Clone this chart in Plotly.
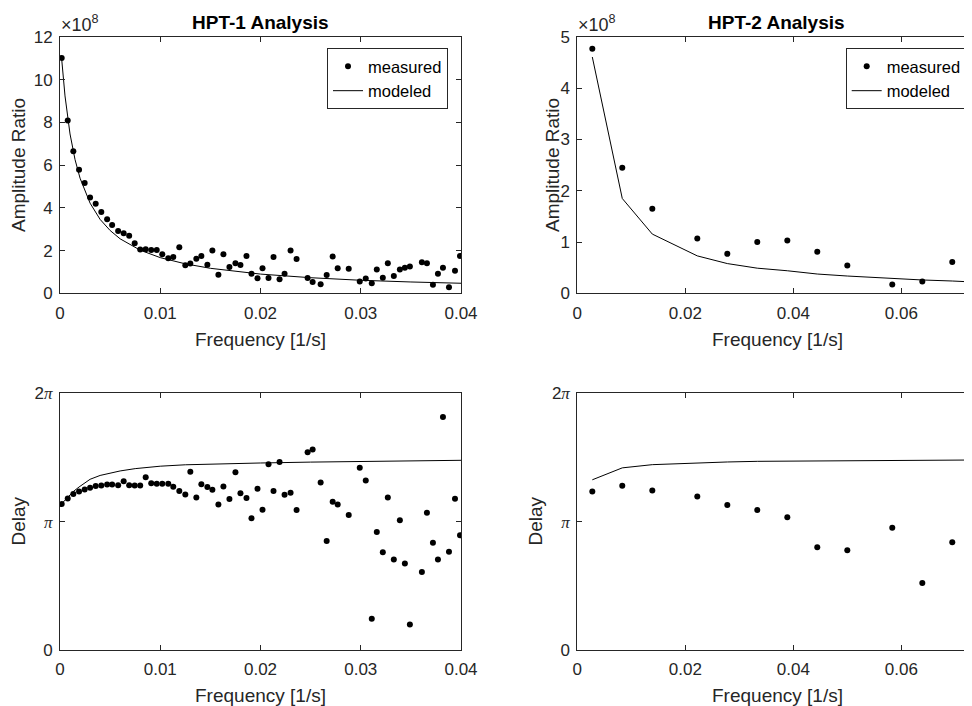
import numpy as np
import plotly.graph_objects as go

# ---------------- data ----------------
# HPT-1 frequencies [1/s]
freq_hpt1 = [0.00017, 0.00077, 0.00133, 0.0019, 0.00246, 0.0030, 0.00356, 0.00412, 0.0047, 0.0052,
             0.0058, 0.00635, 0.0069, 0.00745, 0.0080, 0.00855, 0.0091, 0.00965, 0.0102, 0.0108,
             0.0113, 0.0119, 0.0125, 0.0130, 0.0136, 0.0141, 0.0147, 0.0152, 0.0158, 0.0163,
             0.0169, 0.0175, 0.0180, 0.0186, 0.0191, 0.0197, 0.0202, 0.0208, 0.0213, 0.0219,
             0.0224, 0.0230, 0.0236, 0.0247, 0.0252, 0.0260, 0.0266, 0.0272, 0.0277, 0.0288,
             0.0299, 0.0305, 0.0311, 0.0316, 0.0322, 0.0327, 0.0333, 0.0339, 0.0344, 0.0349,
             0.0361, 0.0366, 0.0372, 0.0377, 0.0382, 0.0388, 0.0394, 0.0399]
# HPT-1 measured amplitude ratio (x 1e8)
amp_hpt1 = [11.02, 8.09, 6.65, 5.78, 5.16, 4.48, 4.19, 3.81, 3.47, 3.20,
            2.92, 2.81, 2.69, 2.34, 2.05, 2.06, 2.03, 2.03, 1.83, 1.64,
            1.70, 2.16, 1.31, 1.39, 1.62, 1.75, 1.34, 2.00, 0.87, 1.83,
            1.23, 1.41, 1.33, 1.75, 0.92, 0.70, 1.17, 0.72, 1.70, 0.66,
            0.92, 2.00, 1.61, 0.72, 0.53, 0.42, 0.86, 1.72, 1.17, 1.15,
            0.55, 0.69, 0.47, 1.12, 0.73, 1.41, 0.81, 1.11, 1.20, 1.25,
            1.45, 1.41, 0.40, 0.92, 1.20, 0.28, 1.05, 1.75]
# HPT-1 measured delay (in units of pi)
delay_hpt1 = [1.137, 1.181, 1.215, 1.235, 1.250, 1.264, 1.277, 1.282, 1.289, 1.289,
              1.284, 1.315, 1.284, 1.282, 1.282, 1.346, 1.300, 1.295, 1.295, 1.295,
              1.271, 1.238, 1.212, 1.388, 1.189, 1.292, 1.269, 1.248, 1.134, 1.274,
              1.176, 1.385, 1.222, 1.184, 1.026, 1.256, 1.093, 1.447, 1.238, 1.465,
              1.209, 1.225, 1.090, 1.540, 1.563, 1.305, 0.850, 1.155, 1.134, 1.052,
              1.419, 1.320, 0.243, 0.920, 0.762, 1.189, 0.705, 1.010, 0.674, 0.199,
              0.607, 1.070, 0.835, 0.705, 1.816, 0.765, 1.178, 0.894]

# HPT-1 model curves
model_freq_hpt1 = [0.00017, 0.0005, 0.001, 0.0015, 0.002, 0.003, 0.004, 0.005, 0.006, 0.008,
                   0.010, 0.0125, 0.015, 0.020, 0.025, 0.030, 0.035, 0.040]
model_amp_hpt1 = [10.96, 9.24, 7.46, 6.26, 5.39, 4.22, 3.46, 2.94, 2.55, 2.02,
                  1.67, 1.38, 1.17, 0.90, 0.73, 0.61, 0.53, 0.47]
model_delay_freq_hpt1 = [0.00017, 0.00077, 0.00133, 0.0019, 0.0025, 0.003, 0.004, 0.005, 0.006, 0.0075,
                         0.010, 0.0125, 0.015, 0.020, 0.025, 0.030, 0.035, 0.040]
model_delay_hpt1 = [1.14, 1.19, 1.235, 1.27, 1.305, 1.33, 1.36, 1.38, 1.395, 1.413,
                    1.432, 1.443, 1.449, 1.457, 1.464, 1.470, 1.475, 1.478]

# HPT-2
freq_hpt2 = [0.00278, 0.00833, 0.01389, 0.02222, 0.02778, 0.03333, 0.03889, 0.04444, 0.05, 0.05833, 0.06389, 0.06944]
amp_hpt2 = [4.77, 2.45, 1.65, 1.07, 0.77, 1.00, 1.03, 0.81, 0.54, 0.17, 0.23, 0.61]
delay_hpt2 = [1.235, 1.279, 1.243, 1.196, 1.129, 1.090, 1.034, 0.801, 0.778, 0.953, 0.522, 0.840]

model_freq_hpt2 = [0.00278, 0.00833, 0.01389, 0.02222, 0.02778, 0.03333, 0.03889, 0.04444, 0.05, 0.05833, 0.06389, 0.06944, 0.07222]
model_amp_hpt2 = [4.61, 1.85, 1.155, 0.73, 0.58, 0.49, 0.44, 0.376, 0.337, 0.285, 0.26, 0.24, 0.226]
model_delay_hpt2 = [1.326, 1.419, 1.444, 1.460, 1.465, 1.470, 1.472, 1.474, 1.476, 1.478, 1.479, 1.480, 1.480]

# ---------------- figure ----------------
W, H = 972, 706
OFF = 8  # page body margin of the generated html
AX = "#262626"
FAM = "Liberation Sans, Arial, sans-serif"
TICK_FONT = dict(family=FAM, size=17, color=AX)
LBL_FONT = dict(family=FAM, size=19, color=AX)
TTL_FONT = dict(family=FAM, size=19, color="black")

def px(x):
    return (x - OFF) / W

def py(y):
    return 1 - (y - OFF) / H

PI = np.pi
pi_span = "<span style='font-family:Liberation Serif;font-style:italic'>π</span>"

fig = go.Figure()

def add(xs, ys, xa, ya, mode, name, legend, showlegend):
    if mode == "markers":
        fig.add_trace(go.Scatter(x=xs, y=ys, mode="markers", name=name, xaxis=xa, yaxis=ya,
                                 marker=dict(color="black", size=6), legend=legend,
                                 showlegend=showlegend))
    else:
        fig.add_trace(go.Scatter(x=xs, y=ys, mode="lines", name=name, xaxis=xa, yaxis=ya,
                                 line=dict(color="black", width=1), legend=legend,
                                 showlegend=showlegend))

add(freq_hpt1, amp_hpt1, "x", "y", "markers", "measured", "legend", True)
add(model_freq_hpt1, model_amp_hpt1, "x", "y", "lines", "modeled", "legend", True)
add(freq_hpt2, amp_hpt2, "x2", "y2", "markers", "measured", "legend2", True)
add(model_freq_hpt2, model_amp_hpt2, "x2", "y2", "lines", "modeled", "legend2", True)
add(freq_hpt1, np.array(delay_hpt1) * PI, "x3", "y3", "markers", "measured", "legend", False)
add(model_delay_freq_hpt1, np.array(model_delay_hpt1) * PI, "x3", "y3", "lines", "modeled", "legend", False)
add(freq_hpt2, np.array(delay_hpt2) * PI, "x4", "y4", "markers", "measured", "legend2", False)
add(model_freq_hpt2, np.array(model_delay_hpt2) * PI, "x4", "y4", "lines", "modeled", "legend2", False)

L_dom = [px(60), px(461)]
R_dom = [px(577.3), px(977)]
T_dom = [py(293.3), py(37)]
B_dom = [py(650), py(393.3)]

common = dict(showline=True, linecolor=AX, linewidth=1, mirror="ticks", ticks="inside",
              ticklen=5, tickwidth=1, tickcolor=AX, showgrid=False, zeroline=False,
              tickfont=TICK_FONT, fixedrange=True, automargin=False)

def xaxis(dom, anchor, rng, tv, tt):
    return dict(domain=dom, anchor=anchor, range=rng, tickvals=tv, ticktext=tt,
                ticklabelstandoff=4, **common)

def yaxis(dom, anchor, rng, tv, tt):
    return dict(domain=dom, anchor=anchor, range=rng, tickvals=tv, ticktext=tt,
                ticklabelstandoff=3, **common)

x1t = [0, 0.01, 0.02, 0.03, 0.04]
x1l = ["0", "0.01", "0.02", "0.03", "0.04"]
x2t = [0, 0.02, 0.04, 0.06]
x2l = ["0", "0.02", "0.04", "0.06"]
dt = [0, PI, 2 * PI]
dl = ["0", pi_span, "2" + pi_span]
x2max = (977 - 577.3) / 5400.0

fig.update_layout(
    width=W, height=H,
    margin=dict(l=0, r=0, t=0, b=0, pad=0, autoexpand=False),
    paper_bgcolor="white", plot_bgcolor="white",
    xaxis=xaxis(L_dom, "y", [0, 0.04], x1t, x1l),
    yaxis=yaxis(T_dom, "x", [0, 12], list(range(0, 13, 2)), [str(v) for v in range(0, 13, 2)]),
    xaxis2=xaxis(R_dom, "y2", [0, x2max], x2t, x2l),
    yaxis2=yaxis(T_dom, "x2", [0, 5], list(range(0, 6)), [str(v) for v in range(0, 6)]),
    xaxis3=xaxis(L_dom, "y3", [0, 0.04], x1t, x1l),
    yaxis3=yaxis(B_dom, "x3", [0, 2 * PI], dt, dl),
    xaxis4=xaxis(R_dom, "y4", [0, x2max], x2t, x2l),
    yaxis4=yaxis(B_dom, "x4", [0, 2 * PI], dt, dl),
    legend=dict(x=px(448), y=py(48), xanchor="right", yanchor="top", bgcolor="white",
                bordercolor=AX, borderwidth=1,
                font=dict(family=FAM, size=16.5, color="black"),
                tracegroupgap=0, itemwidth=30),
    legend2=dict(x=px(966.7), y=py(48), xanchor="right", yanchor="top", bgcolor="white",
                 bordercolor=AX, borderwidth=1,
                 font=dict(family=FAM, size=16.5, color="black"),
                 tracegroupgap=0, itemwidth=30),
    showlegend=True,
)

ann = []
def note(text, x, y, font, angle=0, xanchor="center", yanchor="middle"):
    ann.append(dict(text=text, x=px(x), y=py(y), xref="paper", yref="paper", showarrow=False,
                    font=font, textangle=angle, xanchor=xanchor, yanchor=yanchor))

note("<b>HPT-1 Analysis</b>", 260.5, 22, TTL_FONT)
note("<b>HPT-2 Analysis</b>", 776, 22, TTL_FONT)
note("Frequency [1/s]", 260.5, 339, LBL_FONT)
note("Frequency [1/s]", 777, 339, LBL_FONT)
note("Frequency [1/s]", 260.5, 695, LBL_FONT)
note("Frequency [1/s]", 777, 695, LBL_FONT)
note("Amplitude Ratio", 18, 165, LBL_FONT, angle=-90)
note("Amplitude Ratio", 552, 165, LBL_FONT, angle=-90)
note("Delay", 18, 521.5, LBL_FONT, angle=-90)
note("Delay", 535, 521.5, LBL_FONT, angle=-90)
exp_font = dict(family=FAM, size=18, color=AX)
note("×10<sup>8</sup>", 59, 37, exp_font, xanchor="left", yanchor="bottom")
note("×10<sup>8</sup>", 576, 37, exp_font, xanchor="left", yanchor="bottom")
fig.update_layout(annotations=ann)

fig.write_html("out.html")
